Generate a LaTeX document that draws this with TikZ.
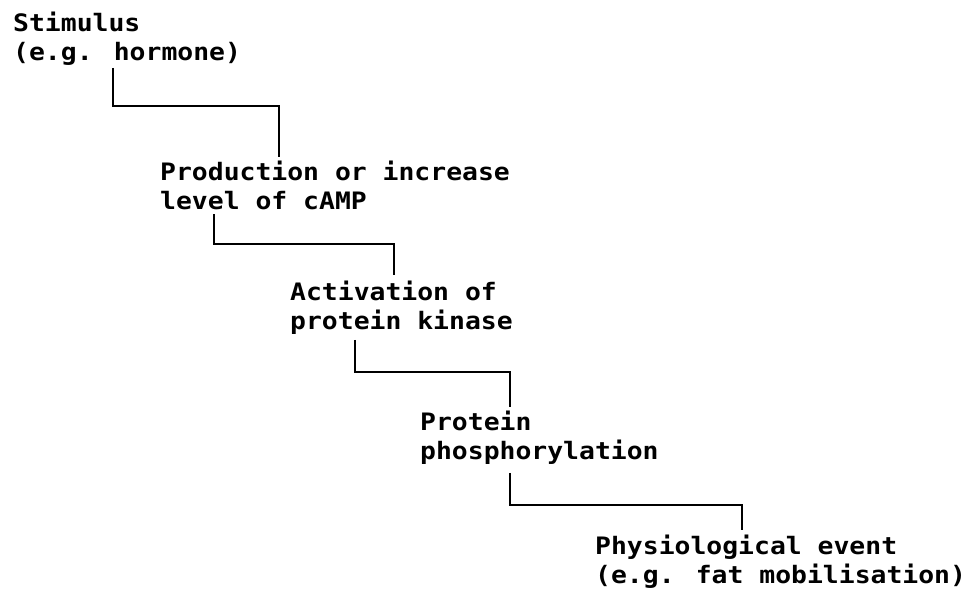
\documentclass[tikz,border=0pt]{standalone}
\usepackage{fontspec}
\usepackage{tikz}
\newfontfamily\dotfont[FakeStretch=1.1]{DejaVu Sans Mono}

\begin{document}
\begin{tikzpicture}[x=1pt,y=-1pt]

\tikzset{stage/.style = {anchor=north west,inner sep=0pt,align=left,
  font=\dotfont\bfseries\fontsize{24}{29}\selectfont}}
\tikzset{link/.style = {line width=1.8pt}}

\useasboundingbox (0,0) rectangle (976,593);

% stages
\node[stage] (stim) at (13,12) {Stimulus\\(e.g. hormone)};
\node[stage] (prod) at (160,161) {Production or increase\\level of cAMP};
\node[stage] (act)  at (290,281) {Activation of\\protein kinase};
\node[stage] (prot) at (420,411) {Protein\\phosphorylation};
\node[stage] (phys) at (595,535) {Physiological event\\(e.g. fat mobilisation)};

% links
\draw[link] ([xshift=100pt,yshift=-2pt]stim.south west) -- ++(0,38) -| ([xshift=119pt,yshift=4pt]prod.north west);
\draw[link] ([xshift=54pt,yshift=-4pt]prod.south west) -- ++(0,30) -| ([xshift=104pt,yshift=6pt]act.north west);
\draw[link] ([xshift=65pt,yshift=-5pt]act.south west) -- ++(0,32) -| ([xshift=90pt,yshift=4pt]prot.north west);
\draw[link] ([xshift=90pt,yshift=-8pt]prot.south west) -- ++(0,32) -| ([xshift=147pt,yshift=5pt]phys.north west);

\end{tikzpicture}
\end{document}
